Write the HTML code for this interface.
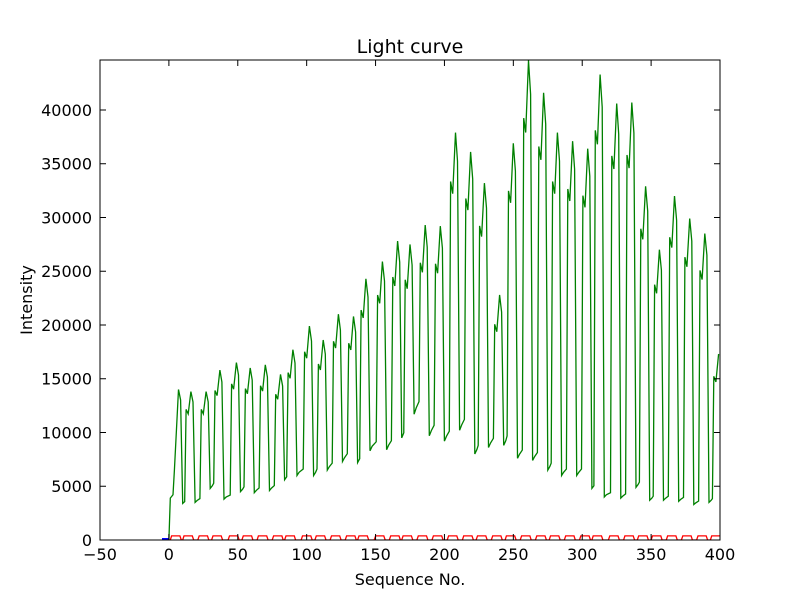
<!DOCTYPE html>
<html><head><meta charset="utf-8"><style>
body{margin:0;background:#fff;}
svg{display:block;font-family:"DejaVu Sans","Liberation Sans",sans-serif;}
</style></head><body>
<svg id="chart" width="800" height="600">
<rect width="800" height="600" fill="#fff"/>
<text x="410" y="53" font-size="19" text-anchor="middle">Light curve</text>
<text x="410" y="585" font-size="16" text-anchor="middle">Sequence No.</text>
<text x="32" y="300" font-size="16" text-anchor="middle" transform="rotate(-90 32 300)">Intensity</text>
<g id="plot"></g>
<g id="axes"></g>
</svg>
<script>
const xTicks=[-50,0,50,100,150,200,250,300,350,400];
const yTicks=[0,5000,10000,15000,20000,25000,30000,35000,40000];
const peakSeq=[7,16,27,37,49,59,70,81,90,102,112,123,134,143,155,166,175,186,197,208,219,229,240,250,261,272,282,293,304,313,325,336,346,356,367,378,389,399];
const peakVal=[14000,13800,13800,15800,16500,16000,16300,15400,17700,19900,18600,21000,20800,24300,25900,27800,27500,29300,29200,37900,36100,33200,22800,36900,44600,41600,37900,37100,36400,43300,40600,40700,32900,27000,32000,29900,28500,17300];
const troughVal=[3400,3500,4800,3800,4500,4400,4600,5600,6000,6000,6500,7300,7200,8300,8400,9500,11700,9700,9200,10200,8000,8600,8800,7600,7400,6500,6000,6000,4800,4000,3900,4900,3700,3700,3600,3300,3500,3500];
const blueSeq=[-5,0];
const blueVal=[0,0];

const X0=100,X1=720,Y0=540,Y1=60,XMIN=-50,XMAX=400,YMIN=0,YMAX=44650;
const sx=v=>X0+(v-XMIN)/(XMAX-XMIN)*(X1-X0);
const sy=v=>Y0-(v-YMIN)/(YMAX-YMIN)*(Y0-Y1);
const NS="http://www.w3.org/2000/svg";
const plot=document.getElementById('plot');
const axes=document.getElementById('axes');
function mk(t,a,p){const e=document.createElementNS(NS,t);for(const k in a)e.setAttribute(k,a[k]);p.appendChild(e);return e;}

const gPts=[[0,0],[1,3900],[3,4200],[4,6500]];
for(let i=0;i<peakSeq.length;i++){
  const p=peakSeq[i],pk=peakVal[i],tr=troughVal[i];
  const prevT=i>0?troughVal[i-1]:6000;
  if(i>0){gPts.push([p-4.5,prevT*1.1]);gPts.push([p-3.5,pk*0.88]);gPts.push([p-2,pk*0.85]);}
  gPts.push([p,pk]);
  if(i<peakSeq.length-1){
    gPts.push([p+1.5,pk*0.93]);
    gPts.push([p+3,tr]);
    gPts.push([p+4.5,tr*1.05]);
  }
}
const clip=mk('clipPath',{id:'clp'},plot);mk('rect',{x:X0,y:Y1,width:X1-X0,height:Y0-Y1},clip);
const g=mk('g',{'clip-path':'url(#clp)'},plot);
const gl=mk('polyline',{points:gPts.map(d=>sx(d[0]).toFixed(1)+','+sy(d[1]).toFixed(1)).join(' '),fill:'none',stroke:'#008000','stroke-width':1.3},g);



const rPts=[];
for(let i=0;i<peakSeq.length;i++){
  const p=peakSeq[i];
  rPts.push([p-6,0],[p-5,380],[p+1,380],[p+2,0]);
}
const rl=mk('polyline',{points:rPts.map(d=>sx(d[0]).toFixed(1)+','+sy(d[1]).toFixed(1)).join(' '),fill:'none',stroke:'#ff0000','stroke-width':1.3},g);



const bl=mk('polyline',{points:blueSeq.map((s,i)=>sx(s)+','+(sy(blueVal[i])-1)).join(' '),fill:'none',stroke:'#0000ff','stroke-width':2},g);



const fr=mk('rect',{x:X0,y:Y1,width:X1-X0,height:Y0-Y1,fill:'none',stroke:'#000','stroke-width':1},axes);


xTicks.forEach(t=>{
  const x=sx(t);
  mk('line',{x1:x,x2:x,y1:Y0,y2:Y0-6,stroke:'#000'},axes);
  mk('line',{x1:x,x2:x,y1:Y1,y2:Y1+6,stroke:'#000'},axes);
  const tx=mk('text',{x:x,y:Y0+20,'font-size':16,'text-anchor':'middle'},axes);
  tx.textContent=String(t).replace('-','\u2212');
  
  
});
yTicks.forEach(t=>{
  const y=sy(t);
  mk('line',{x1:X0,x2:X0+6,y1:y,y2:y,stroke:'#000'},axes);
  mk('line',{x1:X1,x2:X1-6,y1:y,y2:y,stroke:'#000'},axes);
  const tx=mk('text',{x:X0-8,y:y+6,'font-size':16,'text-anchor':'end'},axes);
  tx.textContent=String(t);
  
  
});
</script>
</body></html>
